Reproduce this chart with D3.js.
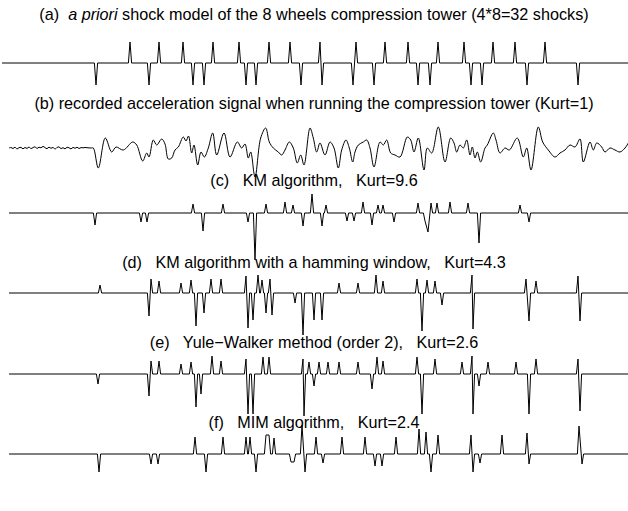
<!DOCTYPE html>
<html>
<head>
<meta charset="utf-8">
<script src="https://cdn.jsdelivr.net/npm/d3@7"></script>
<style>
  body { margin: 0; background: #fff; }
  svg { display: block; }
  text { font-family: "Liberation Sans", Arial, Helvetica, sans-serif; font-size: 16.2px; fill: #000; white-space: pre; }
</style>
</head>
<body>
<svg id="chart" width="628" height="511"></svg>
<script>
// spike positions (sample index) and amplitudes
const shockModel = [
    [128, 21], [157, 21], [181, 21], [211, 21], [237, 21], [267, 21], [288, 21], [318, 21],
    [354, 21], [383, 21], [406, 21], [436, 21], [462, 21], [491, 21], [513, 21], [543, 21],
    [94, -22], [147, -22], [191, -22], [202, -22], [244, -22], [254, -22], [299, -22], [320, -22],
    [351, -22], [372, -22], [416, -22], [428, -22], [469, -22], [480, -22], [525, -22], [576, -22]
];

// recorded acceleration: [sample, value]
const recorded = [
    [7, 0], [9, 0.5], [11, -0.5], [13, 0.8], [15, -1], [17, 0.3], [19, 0.6], [21, -0.8], [23, 0.5],
    [25, -0.4], [27, 1], [29, -0.6], [31, 0.4], [33, 1.2], [35, -0.5], [37, 0.8], [39, 0.2], [41, 1.6],
    [43, 0.4], [45, -0.7], [47, 0.9], [49, -0.3], [51, 0.6], [53, -1], [55, 0.5], [57, 1.1], [59, -0.6],
    [61, 0.3], [63, -0.8], [65, 0.7], [67, 0.2], [69, -0.9], [71, 0.6], [73, -0.3], [75, 0.8], [77, -0.5],
    [79, 0.4], [81, 0.2], [83, 0.5], [85, 0.3], [87, 0.1], [89, 0],
    [91.3, 0], [96.3, -20], [103.3, 10], [109.7, -4], [114, 1], [121.3, -2], [130.7, 6], [134.7, 3],
    [140.7, -13], [144.7, -5], [147, -9], [151.3, 8], [154.7, 3], [159.7, 9], [163, 4], [166.3, -11],
    [169.7, -10], [173, -2], [176.3, 1], [181.3, 11], [184, 7], [186.5, 12], [189.7, -5], [192, 3],
    [195.7, -17], [199, -4], [202.3, -9], [206.3, 0], [210.7, 15], [214.7, -7], [222, 15], [228, -9],
    [235.3, 6], [239.7, 0], [243, 4], [246.3, -10], [248.7, -4], [253, -29], [258.7, 10], [263.7, 20],
    [267.3, 6], [271.3, 0], [276.3, -4], [279.7, -7], [283, -2], [287.3, 6], [291.3, 0], [295.3, -15],
    [298.7, -7], [302, -17], [308, 20], [311.3, 10], [314.7, -4], [318, 5], [323, -7], [328, 6],
    [332, 0], [336.3, -20], [339.7, -2], [344, 8], [347.3, 0], [350.7, -14], [353, -4], [356.3, 3],
    [361.3, 6], [364.7, 8], [368, 0], [372, -19], [378, 6], [381.3, 3], [384.7, 8], [388.7, -5],
    [393, -7], [398, -9], [405.3, 11], [408.7, 8], [412, -4], [416.3, 10], [422, -22], [425.3, 0],
    [429.7, -5], [436.3, 21], [443, -14], [448.7, 10], [452, 5], [454.7, -4], [458, 3], [461.3, 0],
    [464.7, 8], [468, -7], [470.3, 1], [473, -10], [475.3, -4], [478.7, -14], [483, 0], [485.3, 3],
    [491.3, 15], [494, 8], [498, -5], [503, 0], [507.3, -2], [515.3, 10], [521.3, -9], [524.7, 0],
    [529, -22], [536.3, 21], [540.7, 6], [546.3, -2], [553, -9], [558, -5], [563, -2], [568, 3],
    [573, 1], [578, 9], [581.3, -14], [588, 6], [591.3, -2], [594.7, 5], [599.7, 1], [603, -4],
    [608, 0], [613, -2], [618, -4], [623, 0], [626.3, 5]
];

const kmSpikes = [
    [93, -12], [139, -9], [145, -9], [191, 9], [201, -18], [221, 9], [246, -9], [253, -47],
    [264, 9], [283, 11], [291, 8], [301, -13], [310, 19], [320, -13], [324, 8], [345, -8],
    [352, -8], [361, 11], [370, -12], [376, 8], [381, 8], [392, -9], [416, 10], [423, -8],
    [426, -19], [429, 10], [435, 10], [448, 11], [466, 10], [477, -30], [518, 8], [527, -9]
];

const hammingSpikes = [
    [98, 8], [147, -23], [149, 14], [157, 12], [179, 10], [189, 13], [194, -33], [202, -20],
    [209, 14], [219, 14], [244, 17], [246, -35], [251, -27], [256, 18], [260, 13], [264, -20],
    [268, 14], [270, -22], [293, -10], [301, -42], [312, -27], [320, -27], [337, 10], [356, 10],
    [374, 18], [381, 12], [415, 14], [420, -38], [425, 13], [433, 12], [440, -12], [470, 18],
    [471, -36], [524, 14], [527, -28], [534, 12], [576, 17], [578, -28]
];

const yuleSpikes = [
    [96, -10], [147, -22], [149, 13], [157, 13], [179, 10], [189, 12], [194, -33], [199, -20],
    [210, 18], [219, 13], [244, 15], [246, -40], [251, -40], [261, 17], [267, 17], [301, 15],
    [302, -42], [307, 12], [312, -12], [317, 12], [326, 12], [337, 12], [356, 12], [370, -15],
    [375, 17], [381, 13], [415, 17], [420, -40], [433, 15], [460, 12], [470, 18], [471, -40],
    [477, -12], [486, 12], [514, 12], [527, -40], [534, 15], [576, 15], [578, -37]
];

const mimSpikes = [
    [97, -18], [149, -10], [156, -10], [193, 17], [204, -18], [221, 17], [244, 17], [248, 17],
    [254, -18], [264, 19], [267, 19], [272, 16], [289, -8], [292, -8], [300, 29], [303, -18],
    [314, 17], [321, -9], [340, 17], [363, 17], [373, -12], [380, -12], [394, 17], [417, 25],
    [424, 22], [429, -18], [436, 19], [469, 19], [471, -18], [478, -9], [500, 19], [525, 21],
    [527, -10], [577, 28], [580, -10]
];

const titles = [
    ['(a)  ', 'a priori', ' shock model of the 8 wheels compression tower (4*8=32 shocks)'],
    ['(b) recorded acceleration signal when running the compression tower (Kurt=1)'],
    ['(c)   KM algorithm,   Kurt=9.6'],
    ['(d)   KM algorithm with a hamming window,   Kurt=4.3'],
    ['(e)   Yule\u2212Walker method (order 2),   Kurt=2.6'],
    ['(f)   MIM algorithm,   Kurt=2.4']
];

const width = 628;
const spikeHalf = 1.6;

const x = d3.scaleLinear().domain([0, 626]).range([2, 628]);
const y = d3.scaleLinear().domain([-60, 60]).range([60, -60]);

// turn a spike list into a polyline on a flat baseline
function spikeTrain(spikes, start, end) {
    const s = spikes.slice().sort((p, q) => p[0] - q[0]);
    const pts = [[start, 0]];
    s.forEach((d, i) => {
        const prev = s[i - 1], next = s[i + 1];
        if (!prev || d[0] - prev[0] > 2 * spikeHalf) pts.push([d[0] - spikeHalf, 0]);
        pts.push(d);
        if (!next || next[0] - d[0] > 2 * spikeHalf) pts.push([d[0] + spikeHalf, 0]);
    });
    pts.push([end, 0]);
    return pts;
}

const panels = [
    { titleY: 20, base: 63, pts: spikeTrain(shockModel, 0, 626), curve: d3.curveLinear },
    { titleY: 109, base: 148, pts: recorded, curve: d3.curveCatmullRom.alpha(0.5) },
    { titleY: 186, base: 213, pts: spikeTrain(kmSpikes, 7, 626), curve: d3.curveLinear },
    { titleY: 268, base: 293, pts: spikeTrain(hammingSpikes, 7, 626), curve: d3.curveLinear },
    { titleY: 348, base: 374, pts: spikeTrain(yuleSpikes, 7, 626), curve: d3.curveLinear },
    { titleY: 428, base: 454, pts: spikeTrain(mimSpikes, 7, 626), curve: d3.curveLinear }
];

const svg = d3.select('#chart');

panels.forEach((p, i) => {
    const line = d3.line()
        .x(d => x(d[0]))
        .y(d => y(d[1]))
        .curve(p.curve);

    const g = svg.append('g')
        .attr('transform', `translate(0,${p.base})`);

    g.append('path')
        .datum(p.pts)
        .attr('d', line)
        .attr('fill', 'none')
        .attr('stroke', '#000')
        .attr('stroke-width', 1)
        .attr('stroke-linejoin', 'miter');

    const t = svg.append('text')
        .attr('x', width / 2)
        .attr('y', p.titleY)
        .attr('text-anchor', 'middle');
    titles[i].forEach((part, j) => {
        t.append('tspan')
            .attr('font-style', i === 0 && j === 1 ? 'italic' : null)
            .text(part);
    });
});
</script>
</body>
</html>
